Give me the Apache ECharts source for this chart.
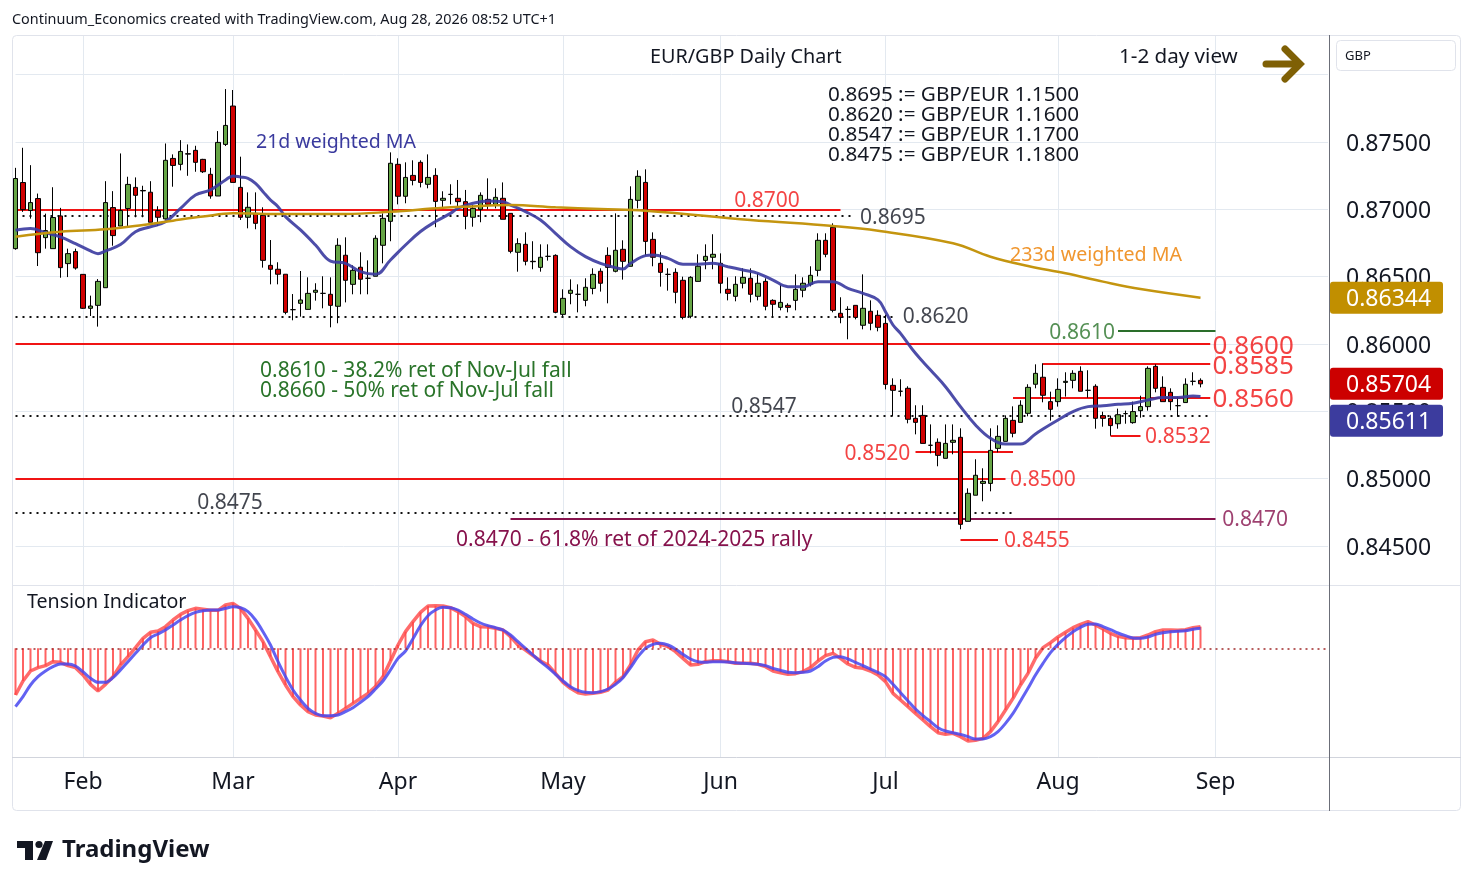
<!DOCTYPE html>
<html>
<head>
<meta charset="utf-8">
<title>EUR/GBP Daily Chart</title>
<script src="https://cdn.jsdelivr.net/npm/echarts@6/dist/echarts.min.js"></script>
<style>
html,body{margin:0;padding:0;background:#fff;}
#chart{width:1474px;height:887px;}
</style>
</head>
<body>
<div id="chart"></div>
<script>

// daily candles, Tue 20 Jan 2026 .. Fri 28 Aug 2026
const opens=[
0.86708,0.87199,0.86991,0.87080,0.86790,0.86708,0.86951,0.86597,0.86686,0.86517,
0.86265,0.86287,0.86418,0.87013,0.86876,0.87006,0.87163,0.87140,0.87127,0.86991,
0.86929,0.87378,0.87334,0.87413,0.87438,0.87371,0.87260,0.87099,0.87482,0.87767,
0.87163,0.86941,0.86970,0.86955,0.86584,0.86555,0.86518,0.86255,0.86302,0.86257,
0.86384,0.86376,0.86369,0.86280,0.86659,0.86443,0.86570,0.86488,0.86503,0.86733,
0.86911,0.87334,0.87097,0.87252,0.87349,0.87186,0.87252,0.87067,0.87111,0.87082,
0.87057,0.86941,0.87000,0.87074,0.87037,0.87082,0.86970,0.86681,0.86740,0.86614,
0.86569,0.86651,0.86658,0.86220,0.86376,0.86369,0.86324,0.86413,0.86540,0.86658,
0.86540,0.86703,0.86577,0.87067,0.87200,0.86777,0.86599,0.86517,0.86532,0.86473,
0.86206,0.86465,0.86621,0.86644,0.86599,0.86406,0.86354,0.86451,0.86488,0.86354,
0.86465,0.86324,0.86272,0.86287,0.86324,0.86399,0.86443,0.86547,0.86770,0.86866,
0.86228,0.86257,0.86287,0.86139,0.86243,0.86213,0.86153,0.85693,0.85649,0.85671,
0.85448,0.85470,0.85248,0.85270,0.85151,0.85270,0.85307,0.84683,0.84877,0.84965,
0.84965,0.85225,0.85277,0.85433,0.85418,0.85485,0.85701,0.85753,0.85572,0.85572,
0.85715,0.85730,0.85797,0.85656,0.85686,0.85468,0.85448,0.85408,0.85483,0.85416,
0.85505,0.85535,0.85834,0.85678,0.85641,0.85542,0.85565,0.85723,0.85730]

const closes=[
0.87229,0.86998,0.87050,0.86678,0.86842,0.86939,0.86567,0.86671,0.86564,0.86265,
0.86282,0.86465,0.87050,0.86805,0.86991,0.87185,0.87104,0.87137,0.86904,0.86941,
0.87364,0.87326,0.87430,0.87410,0.87349,0.87279,0.87099,0.87497,0.87623,0.87200,
0.86941,0.87015,0.86896,0.86621,0.86555,0.86518,0.86235,0.86255,0.86327,0.86376,
0.86399,0.86376,0.86287,0.86733,0.86473,0.86547,0.86481,0.86488,0.86785,0.86933,
0.87342,0.87097,0.87237,0.87215,0.87200,0.87237,0.87059,0.87082,0.87111,0.87057,
0.86948,0.87007,0.87104,0.87037,0.87089,0.86926,0.86688,0.86745,0.86614,0.86611,
0.86644,0.86651,0.86235,0.86339,0.86399,0.86369,0.86421,0.86517,0.86451,0.86569,
0.86696,0.86614,0.87074,0.87245,0.86762,0.86644,0.86532,0.86517,0.86384,0.86198,
0.86495,0.86577,0.86651,0.86666,0.86451,0.86376,0.86443,0.86495,0.86369,0.86451,
0.86280,0.86295,0.86309,0.86272,0.86406,0.86451,0.86510,0.86770,0.86666,0.86250,
0.86198,0.86257,0.86198,0.86265,0.86154,0.86124,0.85700,0.85656,0.85649,0.85441,
0.85418,0.85262,0.85248,0.85173,0.85262,0.85285,0.84661,0.84891,0.85025,0.84980,
0.85210,0.85314,0.85448,0.85337,0.85545,0.85678,0.85782,0.85619,0.85515,0.85663,
0.85723,0.85782,0.85649,0.85656,0.85448,0.85448,0.85394,0.85475,0.85483,0.85498,
0.85535,0.85819,0.85671,0.85572,0.85572,0.85542,0.85701,0.85723,0.85704]

const lows=[
0.86700,0.86981,0.86931,0.86579,0.86708,0.86708,0.86492,0.86497,0.86552,0.86260,
0.86208,0.86129,0.86418,0.86730,0.86876,0.86876,0.86941,0.86941,0.86904,0.86876,
0.86924,0.87168,0.87289,0.87249,0.87279,0.87270,0.87079,0.87099,0.87470,0.87200,
0.86921,0.86859,0.86852,0.86567,0.86443,0.86443,0.86220,0.86176,0.86203,0.86257,
0.86322,0.86265,0.86124,0.86154,0.86309,0.86369,0.86369,0.86369,0.86503,0.86599,
0.86763,0.87037,0.87045,0.87178,0.87163,0.87156,0.86867,0.87007,0.87037,0.87020,
0.86852,0.86871,0.86904,0.87000,0.87007,0.86926,0.86673,0.86537,0.86584,0.86555,
0.86537,0.86619,0.86228,0.86203,0.86295,0.86235,0.86280,0.86369,0.86389,0.86302,
0.86532,0.86478,0.86577,0.87007,0.86658,0.86577,0.86426,0.86396,0.86302,0.86183,
0.86191,0.86465,0.86555,0.86555,0.86376,0.86324,0.86317,0.86413,0.86309,0.86324,
0.86250,0.86198,0.86250,0.86235,0.86250,0.86347,0.86428,0.86503,0.86644,0.86235,
0.86154,0.86035,0.86183,0.86109,0.86102,0.86094,0.85663,0.85463,0.85611,0.85411,
0.85329,0.85262,0.85188,0.85092,0.85151,0.85181,0.84624,0.84683,0.84877,0.84832,
0.84906,0.85196,0.85277,0.85307,0.85418,0.85463,0.85671,0.85567,0.85431,0.85535,
0.85609,0.85671,0.85649,0.85601,0.85371,0.85386,0.85319,0.85371,0.85408,0.85408,
0.85453,0.85505,0.85641,0.85572,0.85508,0.85460,0.85565,0.85693,0.85678]

const highs=[
0.87308,0.87457,0.87328,0.87117,0.86968,0.87164,0.87011,0.86708,0.86708,0.86517,
0.86359,0.86482,0.87209,0.87135,0.87415,0.87242,0.87237,0.87175,0.87209,0.87023,
0.87489,0.87408,0.87514,0.87482,0.87472,0.87375,0.87308,0.87581,0.87893,0.87886,
0.87391,0.87126,0.87126,0.87015,0.86772,0.86607,0.86518,0.86371,0.86542,0.86495,
0.86451,0.86503,0.86495,0.86785,0.86792,0.86584,0.86681,0.86621,0.86807,0.86970,
0.87423,0.87379,0.87349,0.87364,0.87364,0.87408,0.87305,0.87134,0.87186,0.87218,
0.87144,0.87032,0.87126,0.87230,0.87156,0.87200,0.86970,0.86785,0.86829,0.86763,
0.86740,0.86740,0.86666,0.86406,0.86480,0.86443,0.86488,0.86562,0.86562,0.86718,
0.86970,0.86770,0.87171,0.87290,0.87297,0.86829,0.86681,0.86562,0.86562,0.86500,
0.86503,0.86666,0.86740,0.86815,0.86673,0.86495,0.86503,0.86562,0.86562,0.86525,
0.86488,0.86332,0.86443,0.86302,0.86517,0.86495,0.86577,0.86822,0.86822,0.86896,
0.86347,0.86280,0.86287,0.86517,0.86324,0.86250,0.86218,0.85745,0.85738,0.85686,
0.85545,0.85545,0.85403,0.85299,0.85403,0.85403,0.85374,0.84928,0.85144,0.85077,
0.85374,0.85396,0.85470,0.85537,0.85582,0.85701,0.85849,0.85857,0.85646,0.85745,
0.85790,0.85805,0.85834,0.85805,0.85701,0.85497,0.85468,0.85520,0.85505,0.85572,
0.85616,0.85834,0.85849,0.85760,0.85671,0.85609,0.85745,0.85790,0.85745]

// 21d weighted MA at these bar numbers
const ma21Idx=[0,2,4,6,8,10,11,12,14,16,18,20,22,24,26,28,29,30,31,32,33,34,35,36,38,40,42,44,46,48,
50,52,54,56,58,59,61,63,65,66,68,70,72,74,76,78,80,81,82,84,85,87,89,91,93,95,97,99,101,103,
105,107,109,111,113,115,116,117,118,120,122,124,126,128,130,132,134,136,137,139,141,143,145,147,149,151,153,155,157,158]
const ma21Val=[0.86844,0.86857,0.86827,0.86795,0.86745,0.86691,0.86671,0.86691,0.86738,0.86834,0.86871,0.86908,0.87007,0.87106,0.87144,0.87218,0.87248,0.87240,0.87230,0.87193,0.87131,0.87069,0.87020,0.86946,0.86847,0.86735,0.86616,0.86599,0.86537,0.86517,
0.86624,0.86735,0.86835,0.86909,0.86970,0.87008,0.87045,0.87062,0.87057,0.87032,0.86983,0.86921,0.86822,0.86723,0.86649,0.86599,0.86567,0.86557,0.86599,0.86656,0.86661,0.86636,0.86592,0.86592,0.86599,0.86574,0.86550,0.86525,0.86475,0.86426,
0.86426,0.86463,0.86463,0.86413,0.86376,0.86327,0.86240,0.86141,0.86079,0.85931,0.85807,0.85683,0.85535,0.85399,0.85300,0.85257,0.85257,0.85332,0.85369,0.85436,0.85498,0.85535,0.85542,0.85552,0.85560,0.85584,0.85602,0.85602,0.85614,0.85611]

// 233d weighted MA
const ma233Idx=[0,6,12,17,21,25,29,36,44,50,57,60,66,72,78,84,98,109,115,125,130,135,140,145,150,158]
const ma233Val=[0.86797,0.86834,0.86852,0.86884,0.86916,0.86946,0.86970,0.86965,0.86965,0.86982,0.87012,0.87020,0.87032,0.87015,0.87002,0.86990,0.86921,0.86876,0.86841,0.86748,0.86648,0.86579,0.86525,0.86463,0.86408,0.86344]

// Tension Indicator: oscillator and its signal
const tension=[
-14.0,-9.8,-6.8,-5.8,-5.2,-4.0,-4.2,-5.2,-5.8,-8.0,
-10.8,-12.8,-10.8,-8.5,-5.0,-2.5,0.2,3.0,4.8,5.2,
6.5,8.5,10.2,11.3,12.0,11.7,11.4,11.4,13.0,13.5,
12.0,9.0,5.5,2.0,-2.5,-7.0,-11.0,-14.5,-17.0,-19.0,
-20.0,-20.3,-20.8,-19.5,-18.0,-16.5,-15.0,-13.5,-11.5,-8.5,
-3.8,1.0,5.0,8.0,10.8,12.7,12.8,12.7,12.2,11.0,
9.5,7.5,6.5,6.4,6.0,5.5,3.5,1.0,-0.5,-2.2,
-3.8,-5.0,-7.5,-10.2,-12.0,-13.3,-13.7,-13.5,-13.2,-12.5,
-10.2,-8.5,-5.0,-0.5,2.0,2.5,1.2,0.5,-1.0,-3.0,
-5.0,-4.8,-4.0,-3.7,-3.7,-4.0,-4.5,-4.5,-4.5,-4.8,
-5.5,-6.8,-7.3,-7.8,-7.6,-7.0,-5.8,-3.8,-2.2,-1.5,
-3.0,-4.7,-5.7,-6.0,-6.8,-8.0,-10.0,-13.5,-15.5,-17.5,
-19.5,-21.5,-23.5,-25.3,-25.8,-25.5,-26.5,-27.8,-27.6,-27.0,
-25.0,-22.0,-18.5,-15.0,-11.0,-7.5,-3.0,0.2,1.7,3.4,
4.8,6.2,7.2,8.0,7.0,5.8,4.5,3.6,3.2,3.0,
3.2,4.0,5.0,5.5,5.5,5.4,5.6,6.2,6.5]

const signal=[
-17.5,-14.5,-11.0,-8.5,-6.8,-5.5,-4.7,-4.7,-5.3,-7.0,
-9.0,-10.2,-10.2,-8.8,-6.5,-4.0,-1.5,1.0,3.2,4.3,
5.5,7.0,8.5,9.8,10.8,11.3,11.5,11.5,12.0,12.5,
12.2,11.0,8.5,5.0,1.0,-4.0,-8.5,-12.5,-15.5,-18.0,
-19.5,-20.2,-20.2,-20.0,-19.0,-17.8,-16.2,-14.5,-12.2,-9.8,
-6.5,-3.0,-0.8,2.9,6.8,9.8,11.5,12.3,12.2,11.5,
10.2,8.8,7.6,6.8,6.2,5.5,4.0,2.0,0.0,-2.0,
-4.0,-5.8,-7.8,-9.8,-11.5,-12.6,-13.2,-13.3,-13.0,-12.2,
-10.8,-8.8,-5.8,-2.5,0.0,1.2,1.5,1.0,-0.2,-1.8,
-3.2,-4.0,-4.2,-4.0,-4.0,-4.1,-4.3,-4.5,-4.6,-4.8,
-5.2,-6.0,-6.6,-7.2,-7.3,-7.2,-6.8,-5.5,-3.8,-2.7,
-2.5,-3.2,-4.2,-5.2,-6.2,-7.2,-8.5,-10.8,-13.3,-15.8,
-18.2,-20.2,-22.0,-23.8,-24.8,-25.3,-25.8,-26.5,-27.2,-27.2,
-26.5,-25.0,-22.5,-19.5,-15.8,-12.0,-8.0,-4.5,-1.3,1.2,
3.2,5.0,6.3,7.2,7.3,6.5,5.6,4.6,3.8,3.1,
3.0,3.4,4.2,4.7,5.0,5.1,5.3,5.7,6.0]

// marked price levels
const levelPrices=[0.8700,0.8695,0.8620,0.8610,0.8600,0.8585,0.8560,0.8547,0.8532,0.8520,0.8500,0.8475,0.8470,0.8455]

const monthNames=['Jan','Feb','Mar','Apr','May','Jun','Jul','Aug','Sep','Oct','Nov','Dec']
const priceTicks=[0.845,0.850,0.855,0.860,0.865,0.870,0.875]

// where each level is drawn (bar positions) and how it is labelled
const levelLayout=[
  {from:0,to:110,kind:'red',at:100.2,align:'center',dy:-8,size:21},
  {from:0,to:112,kind:'dot',at:112.6,align:'left',dy:2,size:21},
  {from:0,to:117.5,kind:'dot',at:118.3,align:'left',dy:0,size:21},
  {from:147,to:160,kind:'green',at:146.6,align:'right',dy:2,size:21},
  {from:0,to:159.3,kind:'red',at:159.6,align:'left',dy:3,size:26},
  {from:137,to:159.3,kind:'red',at:159.6,align:'left',dy:2,size:26},
  {from:133,to:159.3,kind:'red',at:159.6,align:'left',dy:2,size:26},
  {from:0,to:159,kind:'dot',at:99.8,align:'center',dy:-8,size:21},
  {from:146,to:150,kind:'red',at:150.6,align:'left',dy:1,size:21},
  {from:120,to:133,kind:'red',at:119.3,align:'right',dy:2,size:21},
  {from:0,to:132,kind:'red',at:132.6,align:'left',dy:1,size:21},
  {from:0,to:133.3,kind:'dot',at:28.6,align:'center',dy:-9,size:21},
  {from:66,to:160,kind:'maroon',at:160.9,align:'left',dy:1,size:21},
  {from:126,to:131,kind:'red',at:131.8,align:'left',dy:2,size:21}
]

const FONT="'Noto Sans', 'DejaVu Sans', sans-serif"
const INK='#131722'
const GRID='#e3e9f0'
const RED='#f01414'
const GREEN_TXT='#2a742a'
const MAROON='#86124c'
const SLOTS=176

const lineKinds={
  red:{color:RED,width:2,type:'solid'},
  dot:{color:'#111',width:2,type:[2,5]},
  green:{color:'#2a6e2a',width:2,type:'solid'},
  maroon:{color:MAROON,width:2,type:'solid'}
}
const textKinds={red:RED,dot:INK,green:GREEN_TXT,maroon:MAROON}

// weekday calendar, runs on past the last bar into September
const dates=[]
const monthStarts={}
let t=Date.UTC(2026,0,20)
while(dates.length<SLOTS){
  const d=new Date(t)
  const wd=d.getUTCDay()
  if(wd!==0 && wd!==6){
    if(dates.length){
      const prev=new Date(dates[dates.length-1])
      if(prev.getUTCMonth()!==d.getUTCMonth()) monthStarts[dates.length]=monthNames[d.getUTCMonth()]
    }
    dates.push(d.toISOString().slice(0,10))
  }
  t+=86400000
}
const isMonth=(i)=>monthStarts[i]!==undefined

const candleData=opens.map((o,i)=>[o,closes[i],lows[i],highs[i]])
const ma21Data=ma21Idx.map((x,k)=>[x,ma21Val[k]])
const ma233Data=ma233Idx.map((x,k)=>[x,ma233Val[k]])

const levelLines=levelPrices.map((p,i)=>{
  const L=levelLayout[i]
  const ls=lineKinds[L.kind]
  return [{coord:[L.from,p],lineStyle:ls},{coord:[L.to,p],lineStyle:ls}]
})
const levelTexts=levelPrices.map((p,i)=>{
  const L=levelLayout[i]
  return {
    value:[L.at,p],
    label:{formatter:p.toFixed(4),align:L.align,offset:[0,L.dy],fontSize:L.size,color:textKinds[L.kind]}
  }
})

const chart=echarts.init(document.getElementById('chart'))

chart.setOption({
  animation:false,
  backgroundColor:'#fff',
  textStyle:{fontFamily:FONT},
  grid:[
    {left:15.5,top:7.33,width:1312.5,height:606},
    {left:15.5,top:586,width:1312.5,height:171}
  ],
  xAxis:[
    {type:'category',gridIndex:0,data:dates,boundaryGap:false,
     axisLine:{show:false},axisTick:{show:false},axisLabel:{show:false},
     splitLine:{show:true,interval:isMonth,lineStyle:{color:GRID,width:1}}},
    {type:'value',gridIndex:0,min:0,max:SLOTS-1,show:false},
    {type:'category',gridIndex:1,data:dates,boundaryGap:false,
     axisLine:{show:false},axisTick:{show:false},
     axisLabel:{interval:isMonth,formatter:(v,i)=>monthStarts[i]||'',fontSize:23,color:INK,margin:14,fontFamily:FONT},
     splitLine:{show:true,interval:isMonth,lineStyle:{color:GRID,width:1}}}
  ],
  yAxis:[
    {type:'value',gridIndex:0,position:'right',min:0.84,max:0.885,interval:0.005,scale:true,
     axisLine:{show:false},axisTick:{show:false},
     axisLabel:{margin:18,showMinLabel:false,showMaxLabel:false,
       formatter:(v)=>priceTicks.some(p=>Math.abs(p-v)<1e-7)?'{p|'+v.toFixed(5)+'}':'',
       rich:{p:{fontSize:23,color:INK,fontFamily:FONT,padding:[4,0,0,0]}}},
     splitLine:{show:true,showMinLine:false,showMaxLine:false,lineStyle:{color:GRID,width:1}}},
    {type:'value',gridIndex:1,min:-32.6,max:18.7,show:false}
  ],
  series:[
    {
      type:'line',name:'levels',xAxisIndex:1,yAxisIndex:0,data:[],z:1,
      markLine:{silent:true,symbol:['none','none'],label:{show:false},z:1,animation:false,data:levelLines}
    },
    {
      type:'candlestick',name:'EURGBP',xAxisIndex:0,yAxisIndex:0,data:candleData,
      barWidth:5,clip:false,z:3,
      itemStyle:{color:'#66a545',color0:'#d00000',borderColor:'#000',borderColor0:'#000',borderWidth:1}
    },
    {
      type:'line',name:'21d weighted MA',xAxisIndex:1,yAxisIndex:0,data:ma21Data,
      smooth:0.4,symbol:'none',z:4,
      lineStyle:{color:'rgba(58,58,160,0.9)',width:3}
    },
    {
      type:'line',name:'233d weighted MA',xAxisIndex:1,yAxisIndex:0,data:ma233Data,
      smooth:0.4,symbol:'none',z:4,
      lineStyle:{color:'#c4950f',width:2.5}
    },
    {
      type:'scatter',name:'level labels',xAxisIndex:1,yAxisIndex:0,data:levelTexts,
      symbolSize:1,itemStyle:{color:'rgba(0,0,0,0)'},z:6,silent:true,
      label:{show:true,position:'inside',verticalAlign:'middle',fontFamily:FONT}
    },
    {
      type:'bar',name:'tension hist',xAxisIndex:2,yAxisIndex:1,data:tension,
      barWidth:2,itemStyle:{color:'rgba(255,60,60,0.8)'},z:2,
      markLine:{silent:true,symbol:['none','none'],label:{show:false},
        lineStyle:{color:'#a02828',width:1.5,type:[2,4]},data:[{yAxis:0}]}
    },
    {
      type:'line',name:'tension',xAxisIndex:2,yAxisIndex:1,data:tension,
      symbol:'none',z:3,lineStyle:{color:'rgba(255,70,70,0.8)',width:3.5}
    },
    {
      type:'line',name:'signal',xAxisIndex:2,yAxisIndex:1,data:signal,
      smooth:0.3,symbol:'none',z:4,lineStyle:{color:'rgba(70,70,240,0.85)',width:3}
    }
  ]
})

// text, frame and price boxes
function txt(x,y,text,size,color,weight,align){
  return {type:'text',x:x,y:y+2,z:120,silent:true,
    style:{text:text,fill:color,font:(weight||'normal')+' '+size+'px '+FONT,
      textAlign:align||'left',textVerticalAlign:'middle',align:align||'left',verticalAlign:'middle'}}
}
function box(yc,fill,value){
  return [
    {type:'rect',z:115,silent:true,shape:{x:1330,y:yc-16,width:113,height:32,r:3},style:{fill:fill}},
    txt(1346,yc,value.toFixed(5),23,'#fff')
  ]
}

const yGold=chart.convertToPixel({yAxisIndex:0},ma233Val[ma233Val.length-1])
const yLast=chart.convertToPixel({yAxisIndex:0},closes[closes.length-1])
const yMa=Math.max(chart.convertToPixel({yAxisIndex:0},ma21Val[ma21Val.length-1]),yLast+37)

const g=[
  {type:'rect',z:100,silent:true,shape:{x:0,y:0,width:1474,height:35},style:{fill:'#fff'}},
  {type:'rect',z:101,silent:true,shape:{x:12.5,y:35.5,width:1448,height:775,r:4},style:{fill:'none',stroke:'#e0e3eb',lineWidth:1}},
  {type:'line',z:101,silent:true,shape:{x1:12,y1:585.5,x2:1461,y2:585.5},style:{stroke:'#e0e3eb',lineWidth:1}},
  {type:'line',z:101,silent:true,shape:{x1:12,y1:757.5,x2:1461,y2:757.5},style:{stroke:'#d1d4dc',lineWidth:1}},
  {type:'line',z:101,silent:true,shape:{x1:1329.5,y1:35,x2:1329.5,y2:811},style:{stroke:'#6b6e78',lineWidth:1}},
  txt(12,18,'Continuum_Economics created with TradingView.com, Aug 28, 2026 08:52 UTC+1',14.4,INK),
  txt(650,55,'EUR/GBP Daily Chart',19.8,INK),
  txt(1119,55,'1-2 day view',20.6,INK),
  {type:'polyline',z:120,silent:true,shape:{points:[[1266,64],[1296,64]]},style:{stroke:'#7f6005',lineWidth:7,lineCap:'round'}},
  {type:'polyline',z:120,silent:true,shape:{points:[[1285,49],[1300,64],[1285,79]]},style:{stroke:'#7f6005',lineWidth:7,lineCap:'round',lineJoin:'miter',fill:'none'}},
  {type:'rect',z:110,silent:true,shape:{x:1336.5,y:40.5,width:119,height:30,r:4},style:{fill:'#fff',stroke:'#e0e3eb',lineWidth:1}},
  txt(1345,54,'GBP',13,INK),
  txt(828,93,'0.8695 := GBP/EUR 1.1500',20.7,INK),
  txt(828,113,'0.8620 := GBP/EUR 1.1600',20.7,INK),
  txt(828,133,'0.8547 := GBP/EUR 1.1700',20.7,INK),
  txt(828,153,'0.8475 := GBP/EUR 1.1800',20.7,INK),
  txt(256,140,'21d weighted MA',19.5,'#3a3a9e'),
  txt(1010,253,'233d weighted MA',19.6,'#f0962e'),
  txt(260,369,'0.8610 - 38.2% ret of Nov-Jul fall',21,GREEN_TXT),
  txt(260,389,'0.8660 - 50% ret of Nov-Jul fall',21,GREEN_TXT),
  txt(456,538,'0.8470 - 61.8% ret of 2024-2025 rally',21,MAROON),
  txt(27,600,'Tension Indicator',19.6,INK),
  {type:'rect',z:110,silent:true,shape:{x:17,y:841,width:16,height:7},style:{fill:INK}},
  {type:'rect',z:110,silent:true,shape:{x:25,y:841,width:8,height:19},style:{fill:INK}},
  {type:'circle',z:110,silent:true,shape:{cx:39,cy:844.5,r:3.6},style:{fill:INK}},
  {type:'polygon',z:110,silent:true,shape:{points:[[45,841],[53,841],[46,860],[37,860]]},style:{fill:INK}},
  txt(62,848,'TradingView',24,INK,'bold')
].concat(
  box(yGold,'#c18f00',ma233Val[ma233Val.length-1]),
  box(yLast,'#cc0000',closes[closes.length-1]),
  box(yMa,'#3c3c9e',ma21Val[ma21Val.length-1])
)

chart.setOption({graphic:g})

</script>
</body>
</html>
